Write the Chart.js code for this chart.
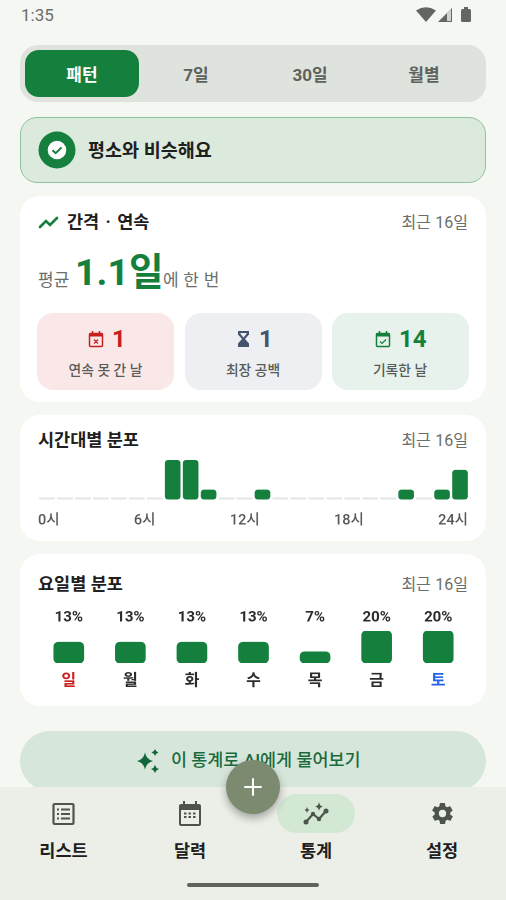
<!DOCTYPE html>
<html lang="ko"><head><meta charset="utf-8">
<script src="https://cdn.jsdelivr.net/npm/chart.js@4"></script>
<style>
*{box-sizing:border-box}
html,body{margin:0;width:506px;height:900px;overflow:hidden;background:#f5f7f2;font-family:Roboto,"Noto Sans CJK KR",sans-serif;color:#1d201d}
.a{position:absolute}
.t{position:absolute;white-space:nowrap;line-height:1;transform:translateY(-50%)}
.c{transform:translate(-50%,-50%)}
.b{font-weight:700}
.card{position:absolute;left:20px;width:466px;background:#fff;border-radius:20px}
.mini{position:absolute;top:313px;height:77px;width:137px;border-radius:16px}
.sub{font-size:16px;color:#6b6f6b;right:38px;word-spacing:.5px}
.ttl{font-size:17.500px;font-weight:700}
.tab{font-size:17px;font-weight:700;color:#5d625c}
.lab{font-size:13.800px;font-weight:500;color:#575a57}
.nav{font-size:17.500px;font-weight:700}
canvas{display:block}
</style></head><body>
<div class="t" style="left:21px;top:15px;font-size:17px;color:#6a6d6a">1:35</div>
<svg class="a" style="left:416px;top:6px" width="58" height="18" viewBox="0 0 58 18">
<path d="M0 4.500Q10 -2 20 4.500L10 16Z" fill="#646664"/><path d="M22 16L36 2V16Z" fill="#646664"/><path d="M31 7V15H35V3Z" fill="#f5f7f2" opacity=".75"/>
<rect x="45" y="3" width="10" height="13" rx="1.500" fill="#646664"/><rect x="48" y="1" width="4" height="3" fill="#646664"/></svg>

<div class="a" style="left:20px;top:45px;width:466px;height:57px;border-radius:18px;background:#dfe3dd"></div>
<div class="a" style="left:25px;top:50px;width:114px;height:47px;border-radius:14px;background:#157f3d"></div>
<div class="t c tab" style="left:82px;top:74.500px;color:#fff">패턴</div>
<div class="t c tab" style="left:196px;top:74.500px">7일</div>
<div class="t c tab" style="left:310px;top:74.500px">30일</div>
<div class="t c tab" style="left:424px;top:74.500px">월별</div>

<div class="a" style="left:20px;top:117px;width:466px;height:66px;border-radius:17px;background:#dce9dd;border:1px solid #8fc39e"></div>
<svg class="a" style="left:38px;top:131px" width="38" height="38" viewBox="0 0 38 38"><circle cx="19" cy="19" r="18.500" fill="#157f3d"/><circle cx="19" cy="19" r="9.300" fill="#fff"/><path d="M14.500 19.200l3.200 3 5.800-5.800" fill="none" stroke="#157f3d" stroke-width="2"/></svg>
<div class="t b" style="left:88px;top:150.500px;font-size:18.500px">평소와 비슷해요</div>

<div class="card" style="top:196px;height:206px"></div>
<svg class="a" style="left:38px;top:213px" width="21" height="18" viewBox="0 0 21 18"><path d="M2 14L8 8l4 4 7-7" fill="none" stroke="#157f3d" stroke-width="2.600" stroke-linecap="round"/></svg>
<div class="t ttl" style="left:67px;top:222.500px;word-spacing:2px">간격 · 연속</div>
<div class="t sub" style="top:222.500px">최근 16일</div>
<div class="t" style="left:38px;top:280px;font-size:17px;color:#6b6f6b">평균</div>
<div class="t b" style="left:75px;top:273px;font-size:37.500px;color:#157f3d">1.1일</div>
<div class="t" style="left:163px;top:280px;font-size:17px;word-spacing:.5px;color:#6b6f6b">에 한 번</div>

<div class="mini" style="left:37px;background:#fae8e8"></div>
<div class="mini" style="left:184.500px;background:#edeff2"></div>
<div class="mini" style="left:331.500px;background:#e7f2ec"></div>
<svg class="a" style="left:88px;top:330px" width="16" height="18" viewBox="0 0 16 18"><rect x="1.500" y="3.500" width="13" height="13" rx="1" fill="none" stroke="#c8201f" stroke-width="1.500"/><rect x="1.500" y="3" width="13" height="3.500" fill="#c8201f"/><path d="M6 9.500l4 4m0-4l-4 4" stroke="#c8201f" stroke-width="1.200"/><path d="M4.500 1v3m7-3v3" stroke="#c8201f" stroke-width="1.500"/></svg>
<div class="t b" style="left:112px;top:339px;font-size:24px;color:#c8201f">1</div>
<svg class="a" style="left:237px;top:330px" width="13" height="18" viewBox="0 0 13 18"><path d="M1 1h11v3.500L8 9l4 4.500V17H1v-3.500L5 9 1 4.500z" fill="#44546f"/><path d="M3.500 3h6v1L6.500 7.500 3.500 4z" fill="#edeff2"/></svg>
<div class="t b" style="left:259px;top:339px;font-size:24px;color:#44546f">1</div>
<svg class="a" style="left:375px;top:330px" width="16" height="18" viewBox="0 0 16 18"><rect x="1.500" y="3.500" width="13" height="13" rx="1" fill="none" stroke="#157f3d" stroke-width="1.500"/><rect x="1.500" y="3" width="13" height="3.500" fill="#157f3d"/><path d="M5 11.500l2 2 4-4" fill="none" stroke="#157f3d" stroke-width="1.200"/><path d="M4.500 1v3m7-3v3" stroke="#157f3d" stroke-width="1.500"/></svg>
<div class="t b" style="left:399px;top:339px;font-size:24px;color:#157f3d">14</div>
<div class="t c lab" style="left:105.500px;top:371px">연속 못 간 날</div>
<div class="t c lab" style="left:253px;top:371px">최장 공백</div>
<div class="t c lab" style="left:400px;top:371px">기록한 날</div>

<div class="card" style="top:415px;height:126px"></div>
<div class="t ttl" style="left:38px;top:440.500px">시간대별 분포</div>
<div class="t sub" style="top:440.500px">최근 16일</div>
<div class="a" style="left:38px;top:460px;width:431px;height:72px"><canvas id="hourChart"></canvas></div>

<div class="card" style="top:554px;height:152px"></div>
<div class="t ttl" style="left:38px;top:584.500px">요일별 분포</div>
<div class="t sub" style="top:584.500px">최근 16일</div>
<div class="a" style="left:37.500px;top:604px;width:431px;height:92px"><canvas id="dayChart"></canvas></div>

<div class="a" style="left:20px;top:731px;width:466px;height:60px;border-radius:30px;background:#d7e6da"></div>
<svg class="a" style="left:137px;top:749px" width="24" height="24" viewBox="0 0 24 24"><path d="M8 3.500Q9.500 10.500 16 12 9.500 13.500 8 20.500 6.500 13.500 0 12 6.500 10.500 8 3.500ZM18 0Q18.700 2.800 21.500 3.500 18.700 4.200 18 7 17.300 4.200 14.500 3.500 17.300 2.800 18 0ZM18 16Q18.800 19.200 22 20 18.800 20.800 18 24 17.200 20.800 14 20 17.200 19.200 18 16Z" fill="#14653a"/></svg>
<div class="t" style="left:171px;top:761px;font-size:17.400px;font-weight:500;color:#1a6b3c">이 통계로 AI에게 물어보기</div>

<div class="a" style="left:0;top:787px;width:506px;height:113px;background:#ecefe8"></div>
<div class="a" style="left:277px;top:794px;width:78px;height:39px;border-radius:20px;background:#d3e8d3"></div>
<div class="a" style="left:226px;top:760px;width:54px;height:54px;border-radius:50%;background:#7c8a70;box-shadow:0 4px 8px rgba(0,0,0,.32)"></div>
<svg class="a" style="left:243px;top:777px" width="20" height="20" viewBox="0 0 20 20"><path d="M10 2v16M2 10h16" stroke="#fff" stroke-width="2" stroke-linecap="round"/></svg>
<svg class="a" style="left:52px;top:802px" width="23" height="24" viewBox="0 0 23 24"><rect x="1.500" y="2" width="20" height="20" rx="1" fill="none" stroke="#4d544b" stroke-width="2.200"/><path d="M9 7.500h9M9 12h9M9 16.500h9M5 7.500h2M5 12h2M5 16.500h2" stroke="#4d544b" stroke-width="2"/></svg>
<svg class="a" style="left:178px;top:801px" width="24" height="26" viewBox="0 0 24 26"><rect x="1" y="3" width="22" height="22" rx="2" fill="#4d544b"/><rect x="3" y="9" width="18" height="14" fill="#ecefe8"/><path d="M6 0v4M18 0v4" stroke="#4d544b" stroke-width="2"/><path d="M6 12.500h2.500m2 0H13m2 0h2.500M6 16h2.500m2 0H13m2 0h2.500" stroke="#4d544b" stroke-width="2"/></svg>
<svg class="a" style="left:302px;top:802px" width="28" height="24" viewBox="0 0 28 24"><path d="M4 20l7-8 6 5 7-8" fill="none" stroke="#4d544b" stroke-width="2.200"/><circle cx="4" cy="20" r="2.500" fill="#4d544b"/><circle cx="11" cy="12" r="2.200" fill="#4d544b"/><circle cx="17" cy="17" r="2.200" fill="#4d544b"/><circle cx="24" cy="9" r="2.500" fill="#4d544b"/><path d="M17 0Q17.500 4 21 4.500 17.500 5 17 9 16.500 5 13 4.500 16.500 4 17 0ZM5 5Q5.300 7.500 7.500 8 5.300 8.500 5 11 4.700 8.500 2.500 8 4.700 7.500 5 5Z" fill="#4d544b"/></svg>
<svg class="a" style="left:430px;top:801px" width="25" height="25" viewBox="0 0 24 24"><path fill="#4d544b" d="M19.400 13c.1-.3.1-.7.1-1s0-.7-.1-1l2.100-1.600c.2-.1.2-.4.100-.6l-2-3.500c-.1-.2-.4-.3-.6-.2l-2.500 1c-.5-.4-1.100-.7-1.700-1l-.4-2.600c0-.3-.2-.5-.5-.5h-4c-.3 0-.5.2-.5.400l-.4 2.700c-.6.300-1.200.6-1.700 1l-2.500-1c-.2-.1-.5 0-.6.200l-2 3.500c-.1.200-.1.500.1.600L4.600 11c-.1.300-.1.700-.1 1s0 .7.100 1l-2.100 1.600c-.2.100-.2.400-.1.600l2 3.500c.1.200.4.300.6.200l2.500-1c.5.400 1.100.7 1.700 1l.4 2.600c0 .3.200.5.500.5h4c.3 0 .5-.2.500-.4l.4-2.700c.6-.3 1.200-.6 1.700-1l2.500 1c.2.100.5 0 .6-.2l2-3.500c.1-.2.100-.5-.1-.6zM12 15.500a3.500 3.500 0 110-7 3.500 3.500 0 010 7z"/></svg>
<div class="t c nav" style="left:63.500px;top:851.500px">리스트</div>
<div class="t c nav" style="left:190px;top:851.500px">달력</div>
<div class="t c nav" style="left:316px;top:851.500px">통계</div>
<div class="t c nav" style="left:442px;top:851.500px">설정</div>
<div class="a" style="left:187px;top:883px;width:132px;height:4px;border-radius:2px;background:#5f635d"></div>

<script>
const hours = ["00","01","02","03","04","05","06","07","08","09","10","11","12","13","14","15","16","17","18","19","20","21","22","23"];
const hourCounts = [0,0,0,0,0,0,0,4,4,1,0,0,1,0,0,0,0,0,0,0,1,0,1,3];
const hourTickLabels = ["0시","6시","12시","18시","24시"];
const weekdays = ["일","월","화","수","목","금","토"];
const weekdayShare = [13,13,13,13,7,20,20];
const weekdayColors = ["#c8201f","#2a2d2a","#2a2d2a","#2a2d2a","#2a2d2a","#2a2d2a","#2563eb"];

const GREEN = "#157f3d", FONT = 'Roboto, "Noto Sans CJK KR", sans-serif';
Chart.defaults.animation = false;
Chart.defaults.responsive = false;
Chart.defaults.devicePixelRatio = 2;
Chart.defaults.plugins.legend.display = false;
Chart.defaults.plugins.tooltip.enabled = false;
const hourFont = {family: FONT, size: 14.5, weight: 500};

function size(id, w, h){ const c = document.getElementById(id); c.width = w; c.height = h; c.style.width = w+"px"; c.style.height = h+"px"; return c; }
const hiddenGrid = len => ({display: true, drawOnChartArea: false, drawTicks: true, tickLength: len, tickColor: "transparent", color: "transparent"});

new Chart(size("hourChart",431,72), {
  type: "bar",
  data: {labels: hours, datasets: [{
    data: hourCounts,
    backgroundColor: c => c.raw === 0 ? "#e3e6e1" : GREEN,
    borderRadius: c => c.raw === 0 ? 0 : 3,
    borderSkipped: false,
    minBarLength: 2,
    barPercentage: .87, categoryPercentage: 1,
    clip: false
  }]},
  options: {
    layout: {padding: 0},
    scales: {
      x: {display: false, offset: true},
      y: {display: false, min: 0, max: 4},
      xTicks: {
        type: "linear", position: "bottom", min: 0, max: 1, offset: false,
        grid: {...hiddenGrid(12.5), offset: false}, border: {display: false},
        // labels are spread edge to edge with equal gaps between them
        afterBuildTicks(axis){
          const ctx = axis.ctx; ctx.save();
          ctx.font = `${hourFont.weight} ${hourFont.size}px ${FONT}`;
          const ws = hourTickLabels.map(l => ctx.measureText(l).width); ctx.restore();
          const W = axis.width - 1, gap = (W - ws.reduce((a,b)=>a+b,0)) / (ws.length-1);
          let x = 0;
          axis.ticks = ws.map(w => { const v = (x + w/2)/axis.width; x += w + gap; return {value: v}; });
        },
        afterTickToLabelConversion(axis){ axis.ticks.forEach((t,i)=>t.label = hourTickLabels[i]); },
        afterFit(axis){ axis.height = 32.5; },
        ticks: {autoSkip: false, maxRotation: 0, padding: 0, color: "#555955", font: hourFont}
      }
    }
  }
});

new Chart(size("dayChart",431,92), {
  type: "bar",
  data: {labels: weekdays, datasets: [{
    data: weekdayShare, backgroundColor: GREEN, borderRadius: 4.5, borderSkipped: false, barThickness: 30
  }]},
  options: {
    layout: {padding: 0},
    scales: {
      x: {
        grid: hiddenGrid(9), border: {display: false},
        afterFit(axis){ axis.height = 33; },
        ticks: {padding: 0, color: weekdayColors, font: {family: FONT, size: 16, weight: 700}}
      },
      xPct: {
        type: "category", position: "top", labels: weekdayShare.map(v => v + "%"),
        grid: hiddenGrid(4.5), border: {display: false},
        afterFit(axis){ axis.height = 27; },
        ticks: {padding: 0, color: "#2a2d2a", font: {family: FONT, size: 15, weight: 700}}
      },
      y: {display: false, min: 0, max: 20}
    }
  }
});
</script>
</body></html>
